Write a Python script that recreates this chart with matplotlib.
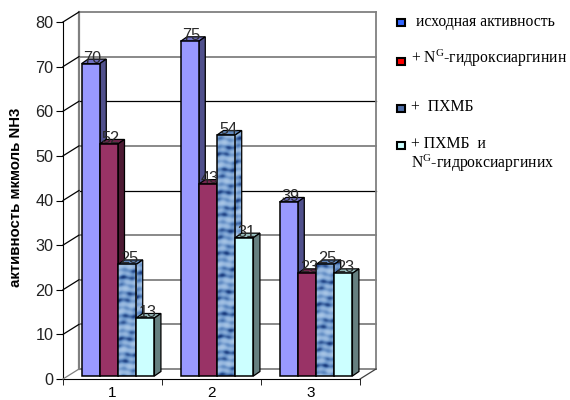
import matplotlib
matplotlib.use("Agg")
import matplotlib.pyplot as plt
from matplotlib.colors import LinearSegmentedColormap
from matplotlib.patches import Polygon
from matplotlib.transforms import Affine2D
import numpy as np

plt.rcParams["font.family"] = ["Liberation Sans", "DejaVu Sans"]
plt.rcParams["mathtext.fontset"] = "custom"
plt.rcParams["mathtext.rm"] = "Liberation Serif"
plt.rcParams["mathtext.default"] = "rm"

categories = [1, 2, 3]
base_activity = [70, 75, 39]
hydroxyarginine = [52, 43, 23]
phmb = [25, 54, 25]
phmb_hydroxyarginine = [13, 31, 23]
y_ticks = [0, 10, 20, 30, 40, 50, 60, 70, 80]
y_label = "активность мкмоль NH3"

W, H = 570, 400
GRAY = "#808080"
# front, side, top colours per series (None = textured)
STYLES = [("#9999ff", "#50508c", "#6f6fc0"),
          ("#993366", "#4d1a33", "#732650"),
          (None, None, "#5f86bd"),
          ("#ccffff", "#668080", "#99bfbf")]
texture_cmap = LinearSegmentedColormap.from_list(
    "tex", ["#16377a", "#5f8ac2", "#8fb2dc", "#a9c6e6"])


def texture(rows, cols, shift):
    yy, xx = np.mgrid[0:rows, 0:cols]
    yy = yy + shift
    return (np.sin(yy * 0.83 + 0.7 * np.sin(xx * 0.35)) + 0.9 * np.sin(yy * 0.31 + xx * 0.12)
            + 0.5 * np.sin(xx * 0.7 + yy * 0.13) + 0.8)


fig = plt.figure(figsize=(W / 100, H / 100), dpi=100)
ax = fig.add_axes([63 / W, 1 - 379 / H, 297 / W, 357 / H])
ax.set_xlim(0.5, 3.5)
ax.set_ylim(0, 80)
ax.patch.set_visible(False)
for s in ("top", "right"):
    ax.spines[s].set_visible(False)

# back wall and left wall
wall = ax.transData + Affine2D().translate(16, 10)
for v in y_ticks:
    dark = v in (40, 60)
    ax.plot([0.5, 3.5], [v, v], color="black" if dark else GRAY, lw=0.9 if dark else 1.3,
            transform=wall, clip_on=False, zorder=1)
    p0 = ax.transData.transform((0.5, v))
    p1 = wall.transform((0.5, v))
    fig.add_artist(plt.Line2D([p0[0], p1[0]], [p0[1], p1[1]],
                              color=GRAY if v == 0 else "black", lw=0.9,
                              transform=None, zorder=1))
ax.plot([0.5, 0.5], [0, 80], color=GRAY, lw=1.6, transform=wall, clip_on=False, zorder=1)
ax.plot([3.5, 3.5], [0, 80], color=GRAY, lw=1.3, transform=wall, clip_on=False, zorder=1)
p0 = ax.transData.transform((3.5, 0))
p1 = wall.transform((3.5, 0))
fig.add_artist(plt.Line2D([p0[0], p1[0]], [p0[1], p1[1]], color="#404040", lw=0.9,
                          transform=None, zorder=1))

# bars
series = [base_activity, hydroxyarginine, phmb, phmb_hydroxyarginine]
base = ax.transData + Affine2D().translate(5.5, 3)
w = 0.184
depth = np.array([6.5, 4.5])
z = 3

labels = []
for c, cat in enumerate(categories):
    for j, vals in enumerate(series):
        v = vals[c]
        x0 = cat + (j - 2) * w
        x1 = x0 + w
        front, side, top = STYLES[j]
        a, b = base.transform([[x1, 0], [x1, v]])
        tl = base.transform((x0, v))
        side_patch = Polygon([a, a + depth, b + depth, b], closed=True, transform=None,
                             fc=side if side else "none", ec="black", lw=0.9, zorder=z + 0.2,
                             clip_on=False)
        ax.add_patch(side_patch)
        ax.add_patch(Polygon([tl, tl + depth, b + depth, b], closed=True, transform=None,
                             fc=top, ec="black", lw=0.9, zorder=z, clip_on=False))
        rect = ax.bar(x0 + w / 2, v, w, color=front if front else "none", edgecolor="black",
                      linewidth=1.1, transform=base, zorder=z + 1, clip_on=False)[0]
        if front is None:
            rows = int(v * 4.46)
            im = ax.imshow(texture(rows, 18, c * 17), cmap=texture_cmap, aspect="auto",
                           extent=(x0, x1, 0, v), zorder=z + 0.5, interpolation="bilinear")
            im.set_transform(base)
            im.set_clip_path(rect)
            im2 = ax.imshow(texture(rows, 7, c * 5), cmap=texture_cmap, aspect="auto",
                            extent=(x1, x1 + 0.07, 0, v + 1), zorder=z + 0.1,
                            interpolation="bilinear")
            im2.set_transform(base)
            im2.set_clip_path(side_patch)
        z += 2
        labels.append((x0 + w / 2, v, v))

label_tr = base + Affine2D().translate(2, 1)
for x, v, s in labels:
    ax.text(x, v, str(s), ha="center", va="baseline", fontsize=11.7, color="#2a2a2a",
            transform=label_tr, zorder=100, clip_on=False)

ax.set_xlim(0.5, 3.5)
ax.set_ylim(0, 80)
ax.set_xticks(categories)
ax.set_xticklabels([str(c) for c in categories], fontsize=11)
ax.set_xticks([0.5, 1.5, 2.5, 3.5], minor=True)
ax.tick_params(axis="x", which="major", length=0, pad=5)
ax.tick_params(axis="x", which="minor", length=4, color="black")
ax.set_yticks(y_ticks)
ax.tick_params(axis="y", labelsize=11.7, length=5, pad=2, labelcolor="#222222")
fig.text(16 / W, 1 - 197.5 / H, y_label, rotation=90, ha="center", va="center",
         fontsize=10.8, fontweight="bold")

# legend, placed by hand like the original
entries = [(22, "#3366ff", [(416, 22, "исходная активность")]),
           (61.5, "#ff0000", [(411, 58, "+ N$^{G}$-гидроксиаргинин")]),
           (108, "#4f6fa8", [(411, 107, "+  ПХМБ")]),
           (145, "#ccffff", [(411, 144, "+ ПХМБ  и"), (411, 163, "N$^{G}$-гидроксиаргиних")])]
for y, col, texts in entries:
    fig.patches.append(plt.Rectangle((397.5 / W, 1 - (y + 3.5) / H), 8 / W, 7 / H, fc=col,
                                     ec="black", lw=1.5, transform=fig.transFigure))
    for tx, ty, t in texts:
        fig.text(tx / W, 1 - ty / H, t, family="Liberation Serif", fontsize=11.3, va="center",
                 ha="left")

fig.savefig("out.png", dpi=100)
